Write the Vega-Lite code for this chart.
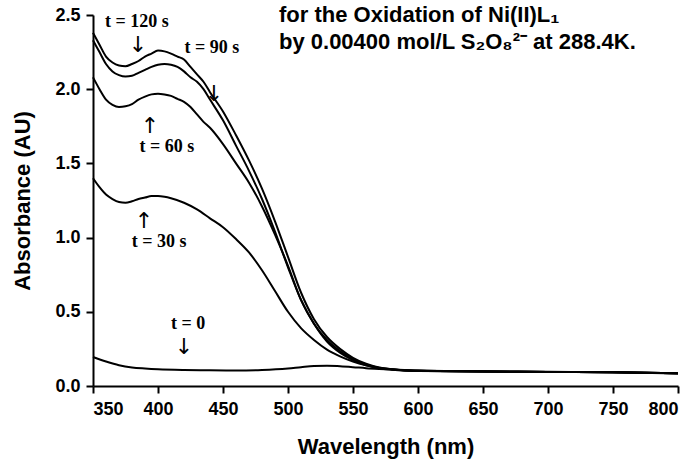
{
  "$schema": "https://vega.github.io/schema/vega-lite/v6.json",
  "width": 585,
  "height": 371,
  "autosize": "none",
  "padding": {"left": 93, "top": 15, "right": 17, "bottom": 83},
  "background": "white",
  "title": {
    "text": ["for the Oxidation of Ni(II)L₁", "by 0.00400 mol/L S₂O₈²⁻ at 288.4K."],
    "anchor": "start",
    "frame": "group",
    "orient": "top",
    "baseline": "top",
    "offset": 0,
    "dx": 186,
    "dy": 48,
    "font": "Liberation Sans",
    "fontSize": 22,
    "fontWeight": "bold",
    "lineHeight": 27,
    "color": "black"
  },
  "config": {
    "view": {"stroke": null},
    "axis": {
      "grid": false,
      "domainColor": "black",
      "domainWidth": 2,
      "tickColor": "black",
      "tickWidth": 2,
      "tickSize": 7,
      "labelFont": "Liberation Sans",
      "labelFontWeight": "bold",
      "labelFontSize": 18,
      "labelColor": "black",
      "titleFont": "Liberation Sans",
      "titleFontWeight": "bold",
      "titleFontSize": 22,
      "titleColor": "black"
    }
  },
  "datasets": {
    "spectra": [
      {"t": "120 s", "wl": 350, "abs": 2.38}, {"t": "120 s", "wl": 355, "abs": 2.30}, {"t": "120 s", "wl": 360, "abs": 2.22}, {"t": "120 s", "wl": 365, "abs": 2.18}, {"t": "120 s", "wl": 370, "abs": 2.16}, {"t": "120 s", "wl": 375, "abs": 2.155}, {"t": "120 s", "wl": 380, "abs": 2.17}, {"t": "120 s", "wl": 385, "abs": 2.19}, {"t": "120 s", "wl": 390, "abs": 2.22}, {"t": "120 s", "wl": 395, "abs": 2.24}, {"t": "120 s", "wl": 400, "abs": 2.26}, {"t": "120 s", "wl": 405, "abs": 2.255}, {"t": "120 s", "wl": 410, "abs": 2.24}, {"t": "120 s", "wl": 415, "abs": 2.22}, {"t": "120 s", "wl": 420, "abs": 2.20}, {"t": "120 s", "wl": 425, "abs": 2.15}, {"t": "120 s", "wl": 430, "abs": 2.10}, {"t": "120 s", "wl": 435, "abs": 2.05}, {"t": "120 s", "wl": 440, "abs": 1.98}, {"t": "120 s", "wl": 450, "abs": 1.85}, {"t": "120 s", "wl": 460, "abs": 1.69}, {"t": "120 s", "wl": 470, "abs": 1.52}, {"t": "120 s", "wl": 480, "abs": 1.33}, {"t": "120 s", "wl": 490, "abs": 1.11}, {"t": "120 s", "wl": 500, "abs": 0.87}, {"t": "120 s", "wl": 510, "abs": 0.63}, {"t": "120 s", "wl": 520, "abs": 0.45}, {"t": "120 s", "wl": 530, "abs": 0.33}, {"t": "120 s", "wl": 540, "abs": 0.25}, {"t": "120 s", "wl": 550, "abs": 0.19}, {"t": "120 s", "wl": 560, "abs": 0.15}, {"t": "120 s", "wl": 570, "abs": 0.125}, {"t": "120 s", "wl": 580, "abs": 0.113}, {"t": "120 s", "wl": 600, "abs": 0.103}, {"t": "120 s", "wl": 650, "abs": 0.098}, {"t": "120 s", "wl": 700, "abs": 0.095}, {"t": "120 s", "wl": 750, "abs": 0.092}, {"t": "120 s", "wl": 800, "abs": 0.086},
      {"t": "90 s", "wl": 350, "abs": 2.33}, {"t": "90 s", "wl": 355, "abs": 2.25}, {"t": "90 s", "wl": 360, "abs": 2.17}, {"t": "90 s", "wl": 365, "abs": 2.12}, {"t": "90 s", "wl": 370, "abs": 2.095}, {"t": "90 s", "wl": 375, "abs": 2.085}, {"t": "90 s", "wl": 380, "abs": 2.09}, {"t": "90 s", "wl": 385, "abs": 2.11}, {"t": "90 s", "wl": 390, "abs": 2.13}, {"t": "90 s", "wl": 395, "abs": 2.15}, {"t": "90 s", "wl": 400, "abs": 2.165}, {"t": "90 s", "wl": 405, "abs": 2.17}, {"t": "90 s", "wl": 410, "abs": 2.165}, {"t": "90 s", "wl": 415, "abs": 2.15}, {"t": "90 s", "wl": 420, "abs": 2.12}, {"t": "90 s", "wl": 425, "abs": 2.08}, {"t": "90 s", "wl": 430, "abs": 2.05}, {"t": "90 s", "wl": 435, "abs": 2.00}, {"t": "90 s", "wl": 440, "abs": 1.93}, {"t": "90 s", "wl": 450, "abs": 1.79}, {"t": "90 s", "wl": 460, "abs": 1.62}, {"t": "90 s", "wl": 470, "abs": 1.45}, {"t": "90 s", "wl": 480, "abs": 1.26}, {"t": "90 s", "wl": 490, "abs": 1.04}, {"t": "90 s", "wl": 500, "abs": 0.80}, {"t": "90 s", "wl": 510, "abs": 0.58}, {"t": "90 s", "wl": 520, "abs": 0.42}, {"t": "90 s", "wl": 530, "abs": 0.31}, {"t": "90 s", "wl": 540, "abs": 0.235}, {"t": "90 s", "wl": 550, "abs": 0.18}, {"t": "90 s", "wl": 560, "abs": 0.145}, {"t": "90 s", "wl": 570, "abs": 0.122}, {"t": "90 s", "wl": 580, "abs": 0.112}, {"t": "90 s", "wl": 600, "abs": 0.102}, {"t": "90 s", "wl": 650, "abs": 0.098}, {"t": "90 s", "wl": 700, "abs": 0.095}, {"t": "90 s", "wl": 750, "abs": 0.092}, {"t": "90 s", "wl": 800, "abs": 0.086},
      {"t": "60 s", "wl": 350, "abs": 2.08}, {"t": "60 s", "wl": 355, "abs": 2.00}, {"t": "60 s", "wl": 360, "abs": 1.93}, {"t": "60 s", "wl": 365, "abs": 1.895}, {"t": "60 s", "wl": 370, "abs": 1.88}, {"t": "60 s", "wl": 375, "abs": 1.885}, {"t": "60 s", "wl": 380, "abs": 1.90}, {"t": "60 s", "wl": 385, "abs": 1.93}, {"t": "60 s", "wl": 390, "abs": 1.95}, {"t": "60 s", "wl": 395, "abs": 1.965}, {"t": "60 s", "wl": 400, "abs": 1.97}, {"t": "60 s", "wl": 405, "abs": 1.965}, {"t": "60 s", "wl": 410, "abs": 1.955}, {"t": "60 s", "wl": 415, "abs": 1.935}, {"t": "60 s", "wl": 420, "abs": 1.915}, {"t": "60 s", "wl": 425, "abs": 1.88}, {"t": "60 s", "wl": 430, "abs": 1.83}, {"t": "60 s", "wl": 435, "abs": 1.78}, {"t": "60 s", "wl": 440, "abs": 1.74}, {"t": "60 s", "wl": 450, "abs": 1.63}, {"t": "60 s", "wl": 460, "abs": 1.50}, {"t": "60 s", "wl": 470, "abs": 1.37}, {"t": "60 s", "wl": 480, "abs": 1.21}, {"t": "60 s", "wl": 490, "abs": 1.02}, {"t": "60 s", "wl": 500, "abs": 0.81}, {"t": "60 s", "wl": 510, "abs": 0.58}, {"t": "60 s", "wl": 520, "abs": 0.42}, {"t": "60 s", "wl": 530, "abs": 0.30}, {"t": "60 s", "wl": 540, "abs": 0.225}, {"t": "60 s", "wl": 550, "abs": 0.175}, {"t": "60 s", "wl": 560, "abs": 0.14}, {"t": "60 s", "wl": 570, "abs": 0.12}, {"t": "60 s", "wl": 580, "abs": 0.11}, {"t": "60 s", "wl": 600, "abs": 0.101}, {"t": "60 s", "wl": 650, "abs": 0.098}, {"t": "60 s", "wl": 700, "abs": 0.095}, {"t": "60 s", "wl": 750, "abs": 0.092}, {"t": "60 s", "wl": 800, "abs": 0.086},
      {"t": "30 s", "wl": 350, "abs": 1.40}, {"t": "30 s", "wl": 355, "abs": 1.34}, {"t": "30 s", "wl": 360, "abs": 1.29}, {"t": "30 s", "wl": 365, "abs": 1.26}, {"t": "30 s", "wl": 370, "abs": 1.24}, {"t": "30 s", "wl": 375, "abs": 1.235}, {"t": "30 s", "wl": 380, "abs": 1.245}, {"t": "30 s", "wl": 385, "abs": 1.26}, {"t": "30 s", "wl": 390, "abs": 1.27}, {"t": "30 s", "wl": 395, "abs": 1.28}, {"t": "30 s", "wl": 400, "abs": 1.28}, {"t": "30 s", "wl": 405, "abs": 1.275}, {"t": "30 s", "wl": 410, "abs": 1.265}, {"t": "30 s", "wl": 420, "abs": 1.235}, {"t": "30 s", "wl": 430, "abs": 1.19}, {"t": "30 s", "wl": 440, "abs": 1.13}, {"t": "30 s", "wl": 450, "abs": 1.07}, {"t": "30 s", "wl": 460, "abs": 0.99}, {"t": "30 s", "wl": 470, "abs": 0.90}, {"t": "30 s", "wl": 480, "abs": 0.78}, {"t": "30 s", "wl": 490, "abs": 0.64}, {"t": "30 s", "wl": 500, "abs": 0.50}, {"t": "30 s", "wl": 510, "abs": 0.39}, {"t": "30 s", "wl": 520, "abs": 0.31}, {"t": "30 s", "wl": 530, "abs": 0.245}, {"t": "30 s", "wl": 540, "abs": 0.20}, {"t": "30 s", "wl": 550, "abs": 0.165}, {"t": "30 s", "wl": 560, "abs": 0.14}, {"t": "30 s", "wl": 570, "abs": 0.123}, {"t": "30 s", "wl": 580, "abs": 0.113}, {"t": "30 s", "wl": 600, "abs": 0.102}, {"t": "30 s", "wl": 650, "abs": 0.098}, {"t": "30 s", "wl": 700, "abs": 0.095}, {"t": "30 s", "wl": 750, "abs": 0.092}, {"t": "30 s", "wl": 800, "abs": 0.086},
      {"t": "0", "wl": 350, "abs": 0.195}, {"t": "0", "wl": 360, "abs": 0.165}, {"t": "0", "wl": 370, "abs": 0.14}, {"t": "0", "wl": 380, "abs": 0.125}, {"t": "0", "wl": 390, "abs": 0.118}, {"t": "0", "wl": 400, "abs": 0.113}, {"t": "0", "wl": 420, "abs": 0.108}, {"t": "0", "wl": 440, "abs": 0.106}, {"t": "0", "wl": 460, "abs": 0.105}, {"t": "0", "wl": 480, "abs": 0.108}, {"t": "0", "wl": 500, "abs": 0.118}, {"t": "0", "wl": 510, "abs": 0.127}, {"t": "0", "wl": 520, "abs": 0.135}, {"t": "0", "wl": 530, "abs": 0.137}, {"t": "0", "wl": 540, "abs": 0.133}, {"t": "0", "wl": 550, "abs": 0.127}, {"t": "0", "wl": 560, "abs": 0.12}, {"t": "0", "wl": 570, "abs": 0.115}, {"t": "0", "wl": 580, "abs": 0.111}, {"t": "0", "wl": 600, "abs": 0.104}, {"t": "0", "wl": 650, "abs": 0.099}, {"t": "0", "wl": 700, "abs": 0.096}, {"t": "0", "wl": 750, "abs": 0.092}, {"t": "0", "wl": 800, "abs": 0.085}
    ],
    "labels": [
      {"text": "t = 120 s", "wl": 383.8, "abs": 2.45},
      {"text": "t = 90 s", "wl": 441.5, "abs": 2.28},
      {"text": "t = 60 s", "wl": 406.9, "abs": 1.61},
      {"text": "t = 30 s", "wl": 400.8, "abs": 0.97},
      {"text": "t = 0", "wl": 423.1, "abs": 0.42}
    ],
    "arrows": [
      {"arrow": "↓", "wl": 384.6, "abs": 2.30},
      {"arrow": "↓", "wl": 443.1, "abs": 1.97},
      {"arrow": "↑", "wl": 393.8, "abs": 1.75},
      {"arrow": "↑", "wl": 389.2, "abs": 1.11},
      {"arrow": "↓", "wl": 420.0, "abs": 0.26}
    ]
  },
  "layer": [
    {
      "data": {"name": "spectra"},
      "mark": {"type": "line", "color": "black", "strokeWidth": 2, "interpolate": "monotone"},
      "encoding": {
        "x": {"field": "wl", "type": "quantitative", "scale": {"domain": [350, 800], "nice": false, "zero": false},
              "axis": {"values": [350, 400, 450, 500, 550, 600, 650, 700, 750, 800], "title": "Wavelength (nm)", "labelPadding": 7, "titlePadding": 18}},
        "y": {"field": "abs", "type": "quantitative", "scale": {"domain": [0, 2.5], "nice": false},
              "axis": {"values": [0, 0.5, 1, 1.5, 2, 2.5], "format": ".1f", "title": "Absorbance (AU)", "labelPadding": 6, "titlePadding": 20}},
        "detail": {"field": "t"}
      }
    },
    {
      "data": {"name": "labels"},
      "mark": {"type": "text", "font": "Liberation Serif", "fontWeight": "bold", "fontSize": 18, "color": "black", "align": "center", "baseline": "middle"},
      "encoding": {
        "x": {"field": "wl", "type": "quantitative"},
        "y": {"field": "abs", "type": "quantitative"},
        "text": {"field": "text"}
      }
    },
    {
      "data": {"name": "arrows"},
      "mark": {"type": "text", "font": "DejaVu Sans", "fontSize": 22, "color": "black", "align": "center", "baseline": "middle"},
      "encoding": {
        "x": {"field": "wl", "type": "quantitative"},
        "y": {"field": "abs", "type": "quantitative"},
        "text": {"field": "arrow"}
      }
    }
  ]
}
